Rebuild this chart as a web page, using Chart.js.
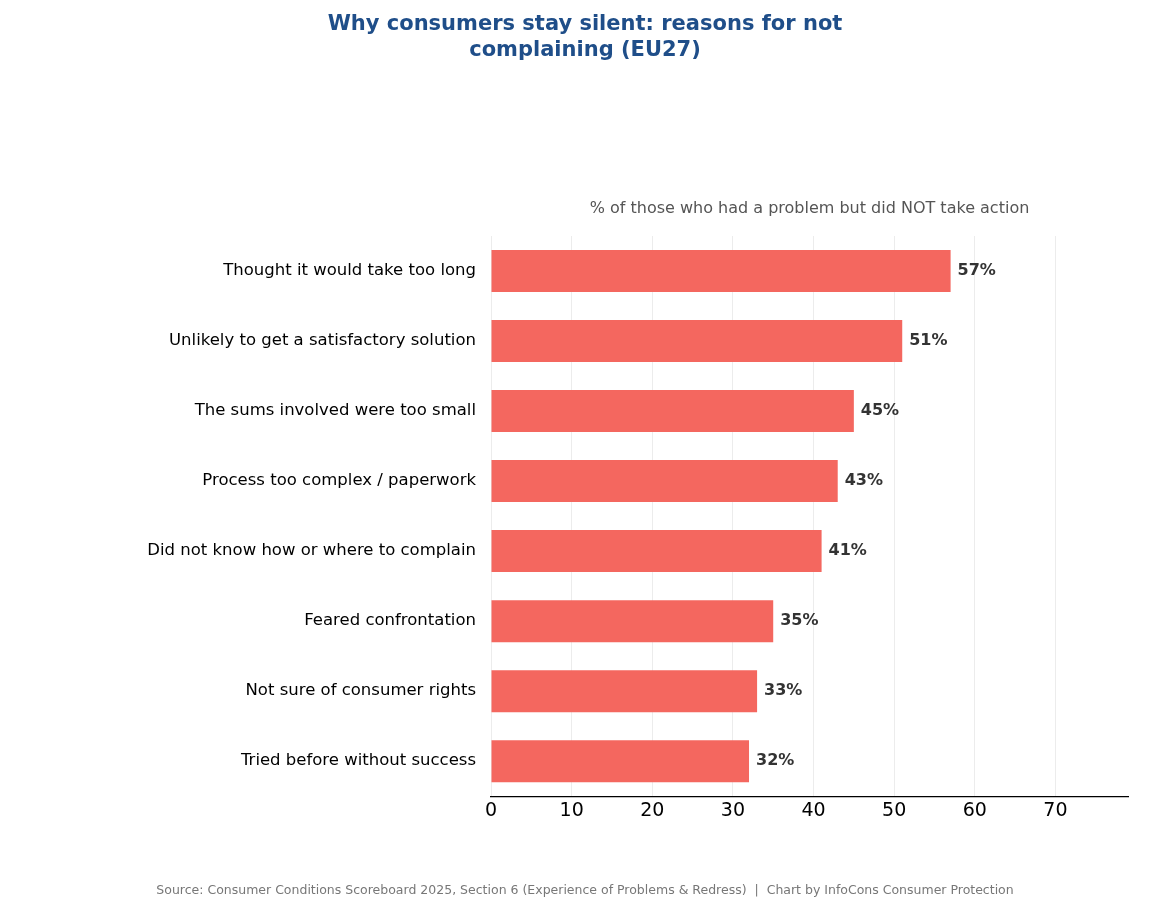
<!DOCTYPE html>
<html>
<head>
<meta charset="utf-8">
<script src="https://cdn.jsdelivr.net/npm/chart.js@4"></script>
<style>
  html, body { margin: 0; padding: 0; background: #fff; }
  #wrap { width: 1170px; height: 909px; }
</style>
</head>
<body>
<div id="wrap"><canvas id="chart"></canvas></div>
<script>
const reasons = [
    'Thought it would take too long',
    'Unlikely to get a satisfactory solution',
    'The sums involved were too small',
    'Process too complex / paperwork',
    'Did not know how or where to complain',
    'Feared confrontation',
    'Not sure of consumer rights',
    'Tried before without success'
];
const shares = [57, 51, 45, 43, 41, 35, 33, 32];

const FONT = '"DejaVu Sans", sans-serif';

const extras = {
    id: 'extras',
    afterDraw(chart) {
        const { ctx, chartArea: a } = chart;
        ctx.save();
        ctx.textAlign = 'center';
        ctx.textBaseline = 'middle';
        ctx.fillStyle = '#1f4e89';
        ctx.font = 'bold 21px ' + FONT;
        ctx.fillText('Why consumers stay silent: reasons for not', 585, 25);
        ctx.fillText('complaining (EU27)', 585, 51);

        ctx.fillStyle = '#555';
        ctx.font = '16px ' + FONT;
        ctx.fillText('% of those who had a problem but did NOT take action', (a.left + a.right) / 2, 209);

        ctx.fillStyle = '#777';
        ctx.font = '12.5px ' + FONT;
        ctx.fillText('Source: Consumer Conditions Scoreboard 2025, Section 6 (Experience of Problems & Redress)  |  Chart by InfoCons Consumer Protection', 585, 891);

        const meta = chart.getDatasetMeta(0);
        ctx.textAlign = 'left';
        ctx.fillStyle = '#333';
        ctx.font = 'bold 16px ' + FONT;
        meta.data.forEach((bar, i) => {
            ctx.fillText(shares[i] + '%', bar.x + 7, bar.y);
        });
        ctx.restore();
    }
};

new Chart(document.getElementById('chart'), {
    type: 'bar',
    data: {
        labels: reasons,
        datasets: [{
            data: shares,
            backgroundColor: '#f4675f',
            categoryPercentage: 1,
            barPercentage: 0.6
        }]
    },
    options: {
        indexAxis: 'y',
        responsive: true,
        maintainAspectRatio: false,
        animation: false,
        layout: { padding: { top: 236, bottom: 84, right: 42, left: 0 } },
        plugins: { legend: { display: false }, tooltip: { enabled: false } },
        scales: {
            x: {
                min: 0,
                max: 79,
                ticks: {
                    stepSize: 10,
                    color: '#000',
                    font: { family: FONT, size: 19 },
                    callback: v => (v % 10 === 0 ? v : '')
                },
                grid: {
                    color: c => (c.tick && c.tick.value % 10 === 0 ? '#ececec' : 'rgba(0,0,0,0)'),
                    drawTicks: false
                },
                border: { color: '#000', width: 1.2 }
            },
            y: {
                afterFit(scale) { scale.width = 491; },
                ticks: { color: '#000', font: { family: FONT, size: 16.5 }, padding: 7 },
                grid: { display: false },
                border: { display: false }
            }
        }
    },
    plugins: [extras]
});
</script>
</body>
</html>
